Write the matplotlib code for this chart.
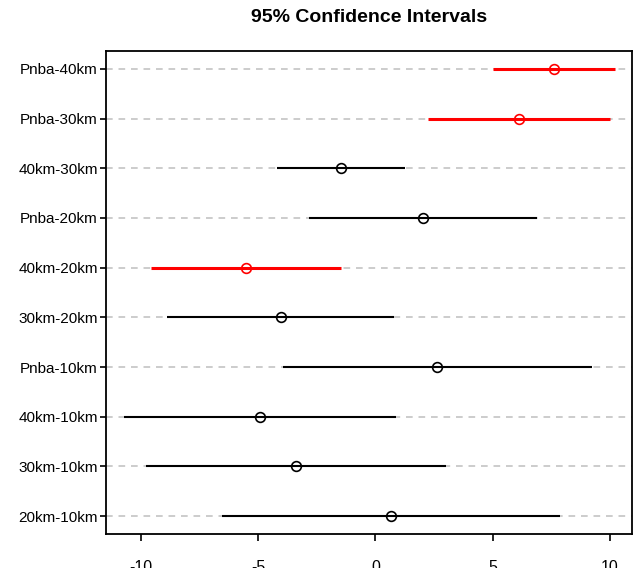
import matplotlib.pyplot as plt
import numpy as np

# comparisons, bottom to top
comparisons = ['20km-10km', '30km-10km', '40km-10km', 'Pnba-10km', '30km-20km',
               '40km-20km', 'Pnba-20km', '40km-30km', 'Pnba-30km', 'Pnba-40km']
diff = [0.67, -3.39, -4.92, 2.64, -4.05, -5.53, 2.03, -1.46, 6.13, 7.62]
lwr = [-6.55, -9.80, -10.74, -3.96, -8.90, -9.59, -2.82, -4.19, 2.25, 5.00]
upr = [7.89, 3.02, 0.89, 9.26, 0.81, -1.47, 6.88, 1.28, 10.00, 10.24]
xticks = [-10, -5, 0, 5, 10]


def main():
    plt.rcParams['font.family'] = ['Liberation Sans', 'DejaVu Sans']

    fig = plt.figure(figsize=(6.35, 5.77), dpi=100)
    ax = fig.add_axes([106 / 635, 1 - 534 / 577, 526 / 635, 483 / 577])

    ypos = np.arange(1, len(comparisons) + 1)

    # dashed guide lines
    for y in ypos:
        ax.axhline(y, color='#C4C4C4', linestyle=(0, (4, 3.5)), lw=1.2, zorder=1)

    # intervals, red when zero is outside
    for y, d, lo, hi in zip(ypos, diff, lwr, upr):
        signif = lo > 0 or hi < 0
        col = '#FF0000' if signif else 'black'
        ax.plot([lo, hi], [y, y], color=col, lw=2.2 if signif else 1.5,
                solid_capstyle='butt', zorder=2)
        ax.plot(d, y, 'o', mfc='none', mec=col, ms=7, mew=1.2, zorder=3)

    ax.set_xlim(-11.5, 10.95)
    ax.set_ylim(0.64, 10.36)
    ax.set_yticks(ypos)
    ax.set_yticklabels(comparisons, fontsize=11)
    ax.set_xticks(xticks)
    ax.set_xticklabels([str(t) for t in xticks], fontsize=11.5)
    ax.tick_params(axis='y', length=4.3, width=1.2, pad=1.5)
    ax.tick_params(axis='x', length=5, width=1.2, pad=14)

    for sp in ax.spines.values():
        sp.set_linewidth(1.3)
        sp.set_color('black')

    fig.text(369 / 635, 1 - 18 / 577, '95% Confidence Intervals',
             ha='center', va='center', fontsize=14, fontweight='bold')

    # the source picture is cropped through the x tick labels
    fig.patches.append(plt.Rectangle((0, 0), 1, 9 / 577, transform=fig.transFigure,
                                     facecolor='white', edgecolor='none', zorder=10))

    fig.savefig('out.png', dpi=100)


if __name__ == '__main__':
    main()
